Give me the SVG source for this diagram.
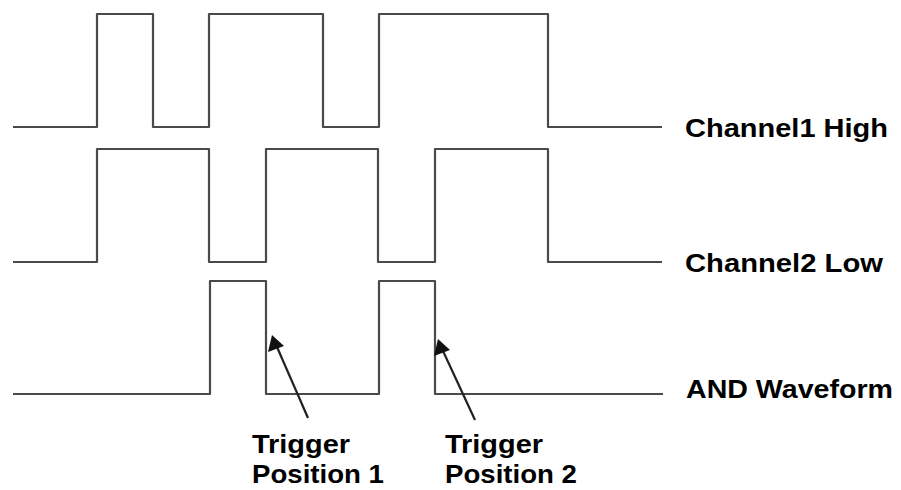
<svg xmlns="http://www.w3.org/2000/svg" width="901" height="490" viewBox="0 0 901 490">
<style>
.wave{fill:none;stroke:#4a4a4a;stroke-width:2.2;stroke-linejoin:round}
.lbl{font-family:"Liberation Sans",Arial,sans-serif;font-weight:bold;font-size:26px;fill:#000}
.arr{stroke:#222;stroke-width:2.2;fill:none}
.head{fill:#111}
</style>
<rect width="901" height="490" fill="#fff"/>
<g id="channel1">
<path class="wave" d="M13,127 H97 V14 H153 V127 H209 V14 H323 V127 H379 V14 H548 V127 H662"/>
<text class="lbl" x="685" y="137" textLength="203" lengthAdjust="spacingAndGlyphs">Channel1 High</text>
</g>
<g id="channel2">
<path class="wave" d="M13,262 H97 V149 H209 V262 H266 V149 H378 V262 H435 V149 H548 V262 H662"/>
<text class="lbl" x="685" y="272" textLength="198" lengthAdjust="spacingAndGlyphs">Channel2 Low</text>
</g>
<g id="and">
<path class="wave" d="M13,394 H210 V281 H266 V394 H379 V281 H435 V394 H663"/>
<text class="lbl" x="686" y="398" textLength="207" lengthAdjust="spacingAndGlyphs">AND Waveform</text>
</g>
<g id="trigger1">
<text class="lbl" x="252" y="453" textLength="98" lengthAdjust="spacingAndGlyphs">Trigger</text>
<text class="lbl" x="252" y="483" textLength="132" lengthAdjust="spacingAndGlyphs">Position 1</text>
</g>
<g id="trigger2">
<text class="lbl" x="445" y="453" textLength="98" lengthAdjust="spacingAndGlyphs">Trigger</text>
<text class="lbl" x="445" y="483" textLength="132" lengthAdjust="spacingAndGlyphs">Position 2</text>
</g>
<g id="connectors">
<line class="arr" x1="308" y1="418" x2="277" y2="347"/>
<polygon class="head" points="272,335 268,352 284,346"/>
<line class="arr" x1="475" y1="420" x2="443" y2="351"/>
<polygon class="head" points="438,339 434,356 450,350"/>
</g>
</svg>
